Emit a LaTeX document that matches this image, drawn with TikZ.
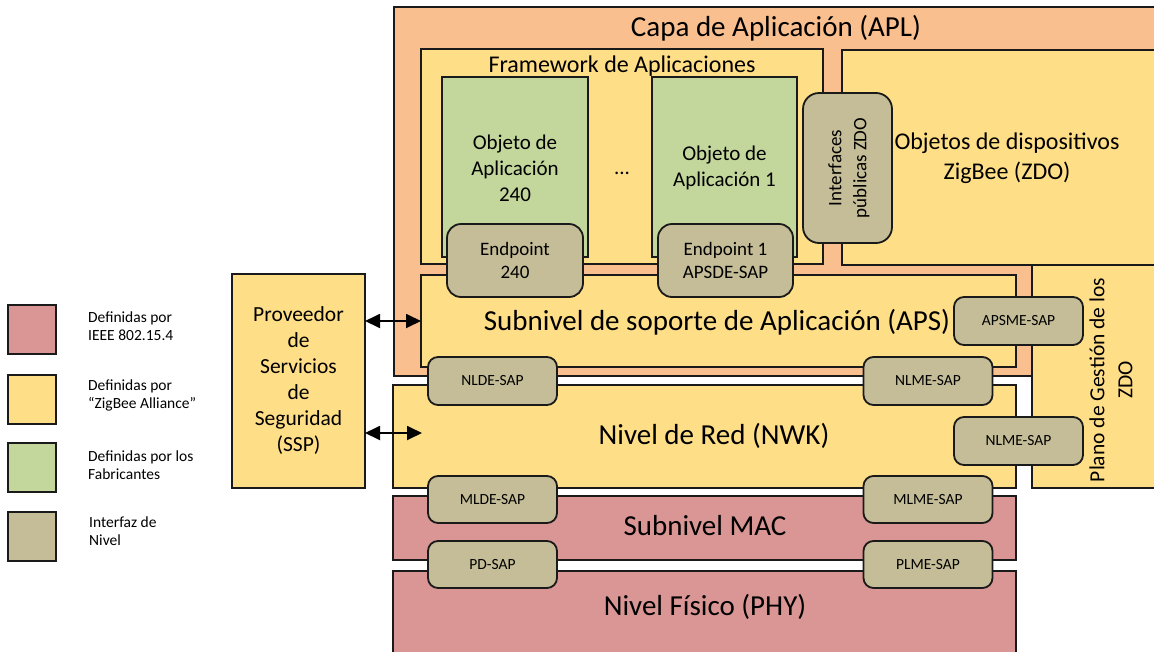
\documentclass[tikz,border=0pt]{standalone}
\usepackage{fontspec}
\setmainfont{Carlito}
\usetikzlibrary{arrows.meta}
\definecolor{aplorange}{HTML}{FABF8F}
\definecolor{zbyellow}{HTML}{FFDE88}
\definecolor{mfgreen}{HTML}{C3D69B}
\definecolor{iftan}{HTML}{C4BD97}
\definecolor{ieeepink}{HTML}{D99694}
\definecolor{edgecol}{HTML}{1A1A1A}
\newcommand\myfs[2]{\fontsize{#1}{#2}\selectfont}
\tikzset{
  blk/.style={draw=edgecol, line width=1.8pt, inner sep=0pt, outer sep=0pt},
  ybox/.style={blk, fill=zbyellow},
  pbox/.style={blk, fill=ieeepink},
  gbox/.style={blk, fill=mfgreen},
  sapbox/.style={blk, fill=iftan, rounded corners=10pt, minimum width=129pt, minimum height=48pt, font=\myfs{15.5}{18}, align=center},
  epbox/.style={blk, fill=iftan, rounded corners=14pt, minimum width=136pt, minimum height=73pt, font=\myfs{19}{23}, align=center},
  lgbox/.style={blk, minimum width=48pt, minimum height=49pt},
  lgtext/.style={anchor=west, align=left, font=\myfs{15.5}{18.5}, inner sep=0pt},
  txt/.style={inner sep=0pt, align=center},
  dblarrow/.style={line width=1.8pt, {Triangle[length=15pt,width=14pt]}-{Triangle[length=15pt,width=14pt]}}
}
\begin{document}
\begin{tikzpicture}[x=1pt,y=-1pt]
\useasboundingbox (0,0) rectangle (1154,651);
\clip (0,0) rectangle (1154,651);
% Application layer
\node[blk, fill=aplorange, minimum width=790pt, minimum height=369pt] (apl) at (789,191.5) {};
\node[txt, font=\myfs{29}{32}] (apltext) at (776,28) {Capa de Aplicación (APL)};
% Framework
\node[ybox, minimum width=402pt, minimum height=215pt] (fw) at (622,156.5) {};
\node[txt, font=\myfs{24}{26}] (fwtext) at (622,66) {Framework de Aplicaciones};
% ZDO
\node[ybox, minimum width=332pt, minimum height=215pt] (zdo) at (1008,157.5) {};
\node[txt, font=\myfs{24}{30}] (zdotext) at (1007,158) {Objetos de dispositivos\\ZigBee (ZDO)};
% Application objects
\node[gbox, minimum width=146pt, minimum height=180pt] (obj240) at (515,167) {};
\node[txt, font=\myfs{21}{26}] (obj240text) at (515,168) {Objeto de\\Aplicación\\240};
\node[gbox, minimum width=145pt, minimum height=180pt] (obj1) at (724.5,167) {};
\node[txt, font=\myfs{21}{26}] (obj1text) at (724.5,168) {Objeto de\\Aplicación 1};
\node[txt, font=\myfs{21}{26}] (dots) at (622,173) {...};
% APS
\node[ybox, minimum width=595pt, minimum height=92pt] (aps) at (718.5,321) {};
\node[txt, font=\myfs{29}{32}] (apstext) at (717,322) {Subnivel de soporte de Aplicación (APS)};
% Endpoints
\node[epbox] (ep240) at (515,260.5) {Endpoint\\240};
\node[epbox, minimum width=135pt] (ep1) at (725.5,260.5) {Endpoint 1\\APSDE-SAP};
% Interfaces publicas ZDO
\node[blk, fill=iftan, rounded corners=16pt, minimum width=89pt, minimum height=150pt] (izdo) at (847.5,168) {};
\node[txt, rotate=90, font=\myfs{19}{25}] (izdotext) at (849,168) {Interfaces\\públicas ZDO};
% NWK
\node[ybox, minimum width=623pt, minimum height=103pt] (nwk) at (704.5,436.5) {};
\node[txt, font=\myfs{29}{32}] (nwktext) at (714,436) {Nivel de Red (NWK)};
% Plano de gestion
\node[ybox, minimum width=142pt, minimum height=223pt] (plano) at (1103,376.5) {};
\node[txt, rotate=90, font=\myfs{21.5}{28}] (planotext) at (1111,380) {Plano de Gestión de los\\ZDO};
% MAC and PHY
\node[pbox, minimum width=623pt, minimum height=64pt] (mac) at (704.5,528) {};
\node[txt, font=\myfs{29}{32}] (mactext) at (705,526) {Subnivel MAC};
\node[pbox, minimum width=623pt, minimum height=99pt] (phy) at (704.5,620.5) {};
\node[txt, font=\myfs{29}{32}] (phytext) at (705,607) {Nivel Físico (PHY)};
% SAPs
\node[sapbox] (apsme) at (1018.5,321) {APSME-SAP};
\node[sapbox] (nlme1) at (928,381) {NLME-SAP};
\node[sapbox] (nlme2) at (1018.5,441) {NLME-SAP};
\node[sapbox] (nlde) at (492.5,381) {NLDE-SAP};
\node[sapbox, minimum height=47pt] (mlde) at (492.5,499.5) {MLDE-SAP};
\node[sapbox, minimum height=47pt] (mlme) at (928,499.5) {MLME-SAP};
\node[sapbox, minimum height=47pt] (pd) at (492.5,564.5) {PD-SAP};
\node[sapbox, minimum height=47pt] (plme) at (928,564.5) {PLME-SAP};
% SSP
\node[ybox, minimum width=133pt, minimum height=214pt, font=\myfs{21.5}{26}, align=center] (ssp) at (298.5,381) {Proveedor\\de\\Servicios\\de\\Seguridad\\(SSP)};
\coordinate (nwkin) at (422,433);
\draw[dblarrow] (ssp.east |- aps.west) -- (aps.west);
\draw[dblarrow] (ssp.east |- nwkin) -- (nwkin);
% Legend
\node[lgbox, fill=ieeepink] (lg1) at (32,329.5) {};
\node[lgbox, fill=zbyellow] (lg2) at (32,399.5) {};
\node[lgbox, fill=mfgreen] (lg3) at (32,467.5) {};
\node[lgbox, fill=iftan] (lg4) at (32,536.5) {};
\node[lgtext] (lg1t) at (88,326) {Definidas por\\IEEE 802.15.4};
\node[lgtext] (lg2t) at (88,395.5) {Definidas por\\“ZigBee Alliance”};
\node[lgtext] (lg3t) at (88,465) {Definidas por los\\Fabricantes};
\node[lgtext] (lg4t) at (89,531) {Interfaz de\\Nivel};
\end{tikzpicture}
\end{document}
